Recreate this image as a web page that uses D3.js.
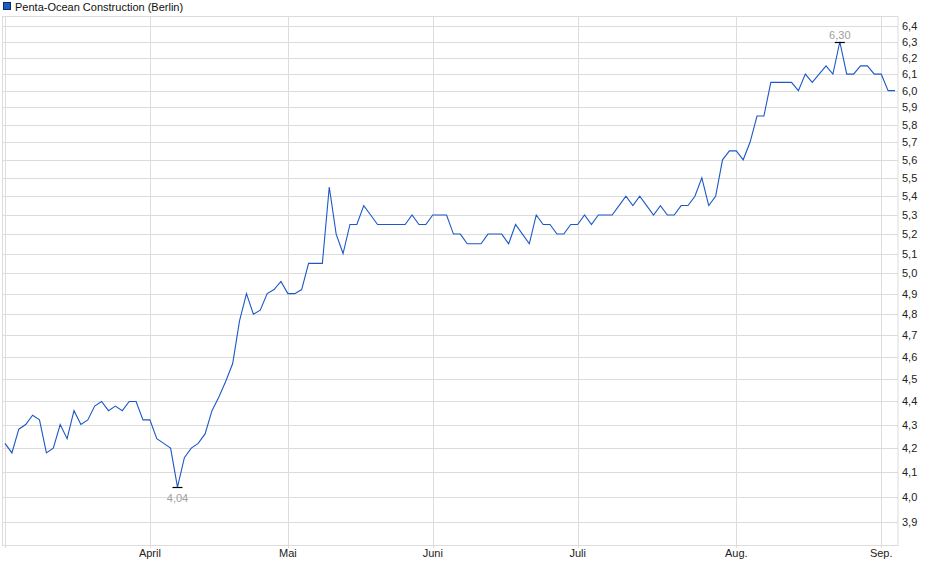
<!DOCTYPE html>
<html>
<head>
<meta charset="utf-8">
<script src="https://cdn.jsdelivr.net/npm/d3@7"></script>
<style>
  html,body{margin:0;padding:0;background:#fff;}
  svg{display:block;font-family:"Liberation Sans",Arial,sans-serif;}
</style>
</head>
<body>
<svg id="chart" width="940" height="579"></svg>
<script>
// ---- data ----
const title = "Penta-Ocean Construction (Berlin)";
const prices = [
  4.22,4.18,4.28,4.30,4.34,4.32,4.18,4.20,4.30,4.24,
  4.36,4.30,4.32,4.38,4.40,4.36,4.38,4.36,4.40,4.40,
  4.32,4.32,4.24,4.22,4.20,4.04,4.16,4.20,4.22,4.26,
  4.36,4.42,4.49,4.57,4.77,4.90,4.80,4.82,4.90,4.92,
  4.96,4.90,4.90,4.92,5.05,5.05,5.05,5.45,5.20,5.10,
  5.25,5.25,5.35,5.30,5.25,5.25,5.25,5.25,5.25,5.30,
  5.25,5.25,5.30,5.30,5.30,5.20,5.20,5.15,5.15,5.15,
  5.20,5.20,5.20,5.15,5.25,5.20,5.15,5.30,5.25,5.25,
  5.20,5.20,5.25,5.25,5.30,5.25,5.30,5.30,5.30,5.35,
  5.40,5.35,5.40,5.35,5.30,5.35,5.30,5.30,5.35,5.35,
  5.40,5.50,5.35,5.40,5.60,5.65,5.65,5.60,5.70,5.85,
  5.85,6.05,6.05,6.05,6.05,6.00,6.10,6.05,6.10,6.15,
  6.10,6.30,6.10,6.10,6.15,6.15,6.10,6.10,6.00,6.00
];
const yTickValues = [3.9,4.0,4.1,4.2,4.3,4.4,4.5,4.6,4.7,4.8,4.9,5.0,5.1,5.2,5.3,5.4,5.5,5.6,5.7,5.8,5.9,6.0,6.1,6.2,6.3,6.4];
const monthLabels = ["April","Mai","Juni","Juli","Aug.","Sep."];
const monthIndex = [21,41,62,83,106,127];

// ---- layout ----
const svg = d3.select("#chart");
const plot = {left:3, right:898, top:16, bottom:545};
const x = d3.scaleLinear().domain([0, prices.length-1]).range([5, 895]);
const y = d3.scaleLog().domain([3.813, 6.464]).range([plot.bottom, plot.top]);
const fmt = v => d3.format(".1f")(v).replace(".", ",");
const fmt2 = v => d3.format(".2f")(v).replace(".", ",");
const gridColor = "#dcdcdc";

// legend
svg.append("rect").attr("x",3.5).attr("y",2.5).attr("width",7).attr("height",7)
  .attr("fill","#1f5bc6").attr("stroke","#0a2a6a").attr("stroke-width",1);
svg.append("text").attr("x",15).attr("y",10.5).attr("font-size",11).attr("fill","#111").text(title);

// horizontal grid
svg.append("g").selectAll("line").data(yTickValues).join("line")
  .attr("x1",plot.left).attr("x2",plot.right)
  .attr("y1",d=>Math.round(y(d))+0.5).attr("y2",d=>Math.round(y(d))+0.5)
  .attr("stroke",gridColor).attr("stroke-width",1);

// vertical grid (months)
svg.append("g").selectAll("line").data(monthIndex).join("line")
  .attr("x1",d=>Math.round(x(d))+0.5).attr("x2",d=>Math.round(x(d))+0.5)
  .attr("y1",plot.top).attr("y2",plot.bottom+3)
  .attr("stroke",gridColor).attr("stroke-width",1);

// start gridline
svg.append("line").attr("x1",Math.round(x(0))+0.5).attr("x2",Math.round(x(0))+0.5)
  .attr("y1",plot.top).attr("y2",plot.bottom+3).attr("stroke",gridColor);

// frame
svg.append("rect").attr("x",plot.left-0.5).attr("y",plot.top+0.5)
  .attr("width",plot.right-plot.left+0.5).attr("height",plot.bottom-plot.top)
  .attr("fill","none").attr("stroke",gridColor);

// y axis labels (right)
svg.append("g").selectAll("text").data(yTickValues).join("text")
  .attr("x",902).attr("y",d=>y(d)+4).attr("font-size",11).attr("fill","#222")
  .text(fmt);

// x axis labels
svg.append("g").selectAll("text").data(monthLabels).join("text")
  .attr("x",(d,i)=>x(monthIndex[i])).attr("y",557).attr("text-anchor","middle")
  .attr("font-size",11).attr("fill","#222").text(d=>d);

// price line
const line = d3.line().x((d,i)=>x(i)).y(d=>y(d));
svg.append("path").datum(prices).attr("d",line)
  .attr("fill","none").attr("stroke","#1c58c6").attr("stroke-width",1.1)
  .attr("stroke-linejoin","miter");

// min / max markers
const iMax = d3.maxIndex(prices), iMin = d3.minIndex(prices);
[[iMax,-1],[iMin,1]].forEach(([i,dir])=>{
  const px = x(i), py = Math.round(y(prices[i]))+0.5;
  svg.append("line").attr("x1",px-5).attr("x2",px+5).attr("y1",py).attr("y2",py)
    .attr("stroke","#000").attr("stroke-width",1.2);
  svg.append("text").attr("x",px).attr("y", dir<0 ? py-4 : py+14)
    .attr("text-anchor","middle").attr("font-size",11).attr("fill","#a0a0a0")
    .text(fmt2(prices[i]));
});
</script>
</body>
</html>
